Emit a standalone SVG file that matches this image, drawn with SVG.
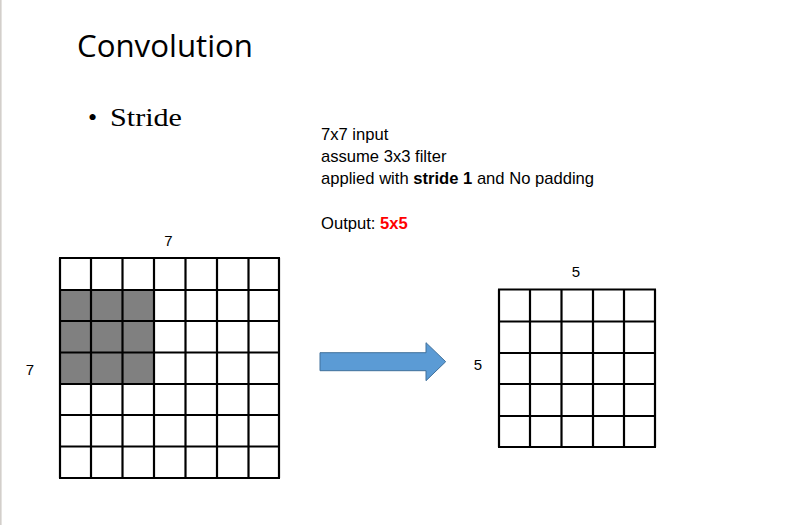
<svg xmlns="http://www.w3.org/2000/svg" width="805" height="525" viewBox="0 0 805 525">
<style>
.grid line{stroke:#000;stroke-width:2.2}
.cell{fill:#808080}
.lbl{font-family:"Liberation Sans",Arial,sans-serif;font-size:15px;fill:#000}
.body{font-family:"Liberation Sans",Arial,sans-serif;font-size:16.6px;fill:#000}
</style>
<rect width="805" height="525" fill="#fff"/>
<rect x="0" y="0" width="1.6" height="525" fill="#d3cfcb"/>
<g id="title"><text x="77" y="57" font-family="'Open Sans','Liberation Sans',sans-serif" font-size="31" textLength="176" lengthAdjust="spacingAndGlyphs">Convolution</text></g>
<g id="bullet"><text x="88" y="126" font-family="'Liberation Serif','DejaVu Serif',serif" font-size="26"><tspan>•</tspan><tspan x="110" textLength="72" lengthAdjust="spacingAndGlyphs">Stride</tspan></text></g>
<g id="notes">
<text x="321" y="140" class="body">7x7 input</text>
<text x="321" y="162" class="body">assume 3x3 filter</text>
<text x="321" y="184" class="body">applied with <tspan font-weight="bold">stride 1</tspan> and No padding</text>
<text x="321" y="229" class="body">Output: <tspan font-weight="bold" fill="#ff0000">5x5</tspan></text>
</g>
<g id="input-grid">
<rect class="cell" x="60" y="290" width="94" height="94"/>
<g class="grid">
<line x1="60" y1="258" x2="60" y2="478"/>
<line x1="91" y1="258" x2="91" y2="478"/>
<line x1="122.5" y1="258" x2="122.5" y2="478"/>
<line x1="154" y1="258" x2="154" y2="478"/>
<line x1="185.5" y1="258" x2="185.5" y2="478"/>
<line x1="217" y1="258" x2="217" y2="478"/>
<line x1="248.5" y1="258" x2="248.5" y2="478"/>
<line x1="279" y1="258" x2="279" y2="478"/>
<line x1="59" y1="258" x2="280" y2="258"/>
<line x1="59" y1="290" x2="280" y2="290"/>
<line x1="59" y1="321" x2="280" y2="321"/>
<line x1="59" y1="352.5" x2="280" y2="352.5"/>
<line x1="59" y1="384" x2="280" y2="384"/>
<line x1="59" y1="415" x2="280" y2="415"/>
<line x1="59" y1="446.5" x2="280" y2="446.5"/>
<line x1="59" y1="478" x2="280" y2="478"/>
</g>
<text class="lbl" x="168.5" y="246" text-anchor="middle">7</text>
<text class="lbl" x="30" y="375" text-anchor="middle">7</text>
</g>
<g id="connectors">
<path d="M320,352.7 H426 V342.7 L445.7,361.7 L426,380.7 V370.7 H320 Z" fill="#5b9bd5" stroke="#41719c" stroke-width="1"/>
</g>
<g id="output-grid">
<g class="grid">
<line x1="499" y1="289.5" x2="499" y2="447"/>
<line x1="530" y1="289.5" x2="530" y2="447"/>
<line x1="561.5" y1="289.5" x2="561.5" y2="447"/>
<line x1="593" y1="289.5" x2="593" y2="447"/>
<line x1="624" y1="289.5" x2="624" y2="447"/>
<line x1="655" y1="289.5" x2="655" y2="447"/>
<line x1="498" y1="289.5" x2="656" y2="289.5"/>
<line x1="498" y1="321.5" x2="656" y2="321.5"/>
<line x1="498" y1="353" x2="656" y2="353"/>
<line x1="498" y1="384" x2="656" y2="384"/>
<line x1="498" y1="416" x2="656" y2="416"/>
<line x1="498" y1="447" x2="656" y2="447"/>
</g>
<text class="lbl" x="576" y="277" text-anchor="middle">5</text>
<text class="lbl" x="478" y="369.5" text-anchor="middle">5</text>
</g>
</svg>
